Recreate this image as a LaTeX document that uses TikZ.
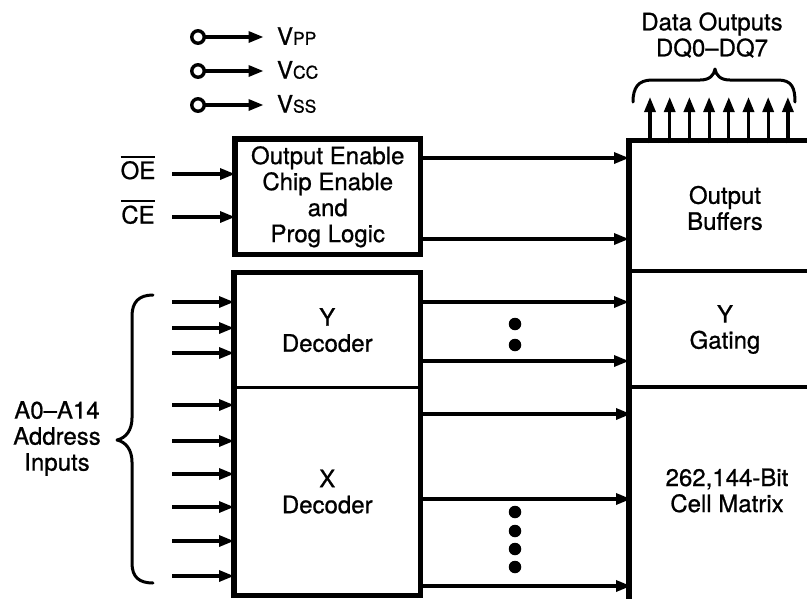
\documentclass[tikz,border=0pt]{standalone}
\usepackage{fontspec}
\setmainfont[FakeBold=0.8]{TeX Gyre Heros}
\usetikzlibrary{arrows.meta}
\newcommand\myovl[1]{\vbox{\hrule height 2pt\kern 3.5pt\hbox{#1}}}
\begin{document}
\begin{tikzpicture}[x=1pt,y=-1pt,
  every node/.style={font=\fontsize{24}{26}\selectfont, inner sep=0pt, outer sep=0pt, align=center},
  thickbox/.style={draw, line width=5.5pt},
  region/.style={draw, line width=3.3pt, rectangle},
  plainregion/.style={rectangle},
  arr/.style={line width=3.2pt, -{Triangle[length=15pt,width=11pt]}},
  bracepath/.style={line width=3pt, line cap=round, line join=round},
  bigdot/.style={circle, fill, minimum size=12.5pt},
  pin/.style={circle, draw, line width=3.4pt, minimum size=12.5pt}]
\useasboundingbox (0,0) rectangle (807,598);

% supply pins
\foreach \nm/\y/\lab in {vpp/37/PP, vcc/71/CC, vss/105/SS}{
  \node[pin] (\nm c) at (198,\y) {};
  \node[anchor=west] (\nm) at (277,\y-1) {V{\fontsize{17.5}{17.5}\selectfont \lab}};
  \draw[arr, shorten >=13.5pt] (\nm c.east) -- (\nm.west |- \nm c.east);
}

% logic box
\node[thickbox, minimum width=185.5pt, minimum height=115.5pt] (logic) at (327.75,196.75)
  {Output Enable\\Chip Enable\\and\\Prog Logic};

% decoders
\node[region, minimum width=186.5pt, minimum height=115.2pt] (ydec) at (327.25,330.1) {Y\\Decoder};
\node[region, minimum width=186.5pt, minimum height=207.8pt] (xdec) at (327.25,491.6) {X\\Decoder};
\draw[line width=5.5pt] (ydec.north west) rectangle (xdec.south east);

% right column
\node[plainregion, minimum width=192pt, minimum height=129.5pt] (outbuf) at (725,208) {Output\\Buffers};
\node[plainregion, minimum width=192pt, minimum height=117pt] (ygate) at (725,329.5) {Y\\Gating};
\node[plainregion, minimum width=192pt, minimum height=207pt] (cell) at (727,490.5) {262,144-Bit\\Cell Matrix};
\draw[line width=3.3pt] (ygate.north west) -- (ygate.north east);
\draw[line width=3.3pt] (cell.north west) -- (cell.north east);
\draw[line width=5.5pt] (629,612) -- (629,140.5) -- (830,140.5);

% control inputs
\node (oe) at (138,167.5) {\myovl{OE}};
\node (ce) at (138,212) {\myovl{CE}};
\coordinate (oeS) at (172,174);
\coordinate (ceS) at (172,217);
\draw[arr] (oeS) -- (logic.west |- oeS);
\draw[arr] (ceS) -- (logic.west |- ceS);

% logic outputs
\coordinate (l1) at (0,158);
\coordinate (l2) at (0,239);
\draw[arr] (logic.east |- l1) -- (outbuf.west |- l1);
\draw[arr] (logic.east |- l2) -- (outbuf.west |- l2);

% address inputs
\foreach \y in {302,328,353,405,441,474,507,541,576}{
  \coordinate (ain) at (172,\y);
  \draw[arr] (ain) -- (xdec.west |- ain);
}
\node (addr) at (57,438.5) {A0--A14\\Address\\Inputs};
\draw[bracepath] (153,295) .. controls (139,295) and (132,302) .. (132,316)
  -- (132,418) .. controls (132,430) and (126,438) .. (117,440)
  .. controls (126,442) and (132,450) .. (132,462)
  -- (132,563) .. controls (132,577) and (139,583) .. (153,583);

% decoder outputs
\foreach \y in {302,361}{
  \coordinate (yo) at (0,\y);
  \draw[arr] (ydec.east |- yo) -- (ygate.west |- yo);
}
\foreach \y in {414,499,586}{
  \coordinate (xo) at (0,\y);
  \draw[arr] (xdec.east |- xo) -- (cell.west |- xo);
}
\node[bigdot] (d1) at (515,324) {};
\node[bigdot] (d2) at (515,345) {};
\node[bigdot] (d3) at (515,512) {};
\node[bigdot] (d4) at (515,531) {};
\node[bigdot] (d5) at (515,549) {};
\node[bigdot] (d6) at (515,567) {};

% data outputs
\foreach \i in {0,...,7}{
  \coordinate (dq\i) at ({650+19.7*\i},97);
  \draw[arr] (outbuf.north -| dq\i) -- (dq\i);
}
\draw[bracepath] (633,102) .. controls (633,88) and (638,80) .. (652,80)
  -- (700,80) .. controls (710,80) and (714,75) .. (715,69)
  .. controls (716,75) and (720,80) .. (730,80)
  -- (778,80) .. controls (792,80) and (795,88) .. (795,102);
\node (dq) at (712,35) {\fontsize{24}{24}\selectfont Data Outputs\\DQ0--DQ7};
\end{tikzpicture}
\end{document}
